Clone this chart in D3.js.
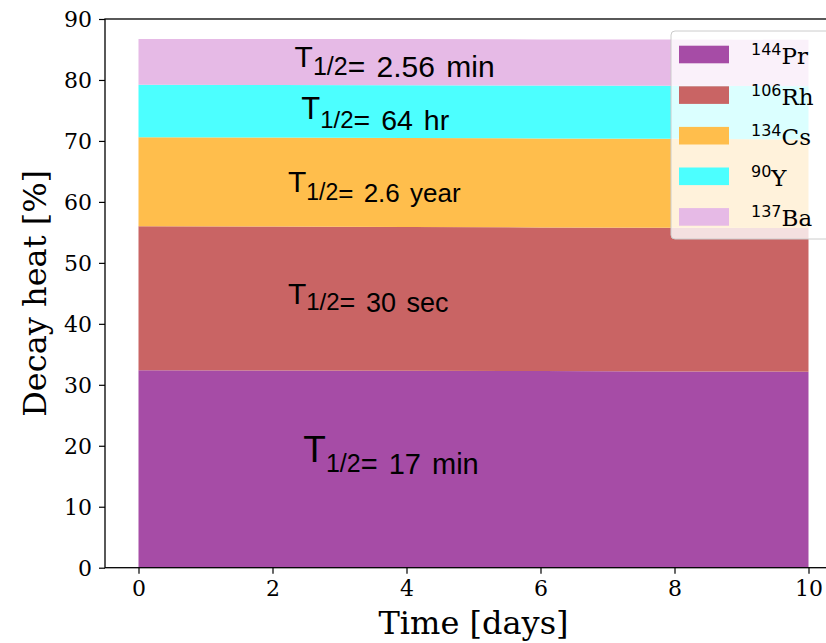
<!DOCTYPE html>
<html>
<head>
<meta charset="utf-8">
<script src="https://cdn.jsdelivr.net/npm/d3@7"></script>
<style>
  html, body { margin: 0; padding: 0; background: #fff; }
  svg { display: block; }
</style>
</head>
<body>
<svg id="chart" width="826" height="643"></svg>
<script>
// ---- data ----
const times = [0, 2, 4, 6, 8, 10];
const isotopes = ["144Pr", "106Rh", "134Cs", "90Y", "137Ba"];
const massNumbers = ["144", "106", "134", "90", "137"];
const elements = ["Pr", "Rh", "Cs", "Y", "Ba"];
const pr144 = [32.4, 32.35, 32.3, 32.25, 32.2, 32.15];
const rh106 = [23.6, 23.6, 23.6, 23.55, 23.55, 23.55];
const cs134 = [14.6, 14.6, 14.6, 14.6, 14.6, 14.55];
const y90   = [8.6, 8.62, 8.65, 8.68, 8.7, 8.72];
const ba137 = [7.5, 7.53, 7.55, 7.57, 7.6, 7.63];
const halfLives = ["17 min", "30 sec", "2.6 year", "64 hr", "2.56 min"];
const xTicks = [0, 2, 4, 6, 8, 10];
const yTicks = [0, 10, 20, 30, 40, 50, 60, 70, 80, 90];

const colors = ["#a64ca6", "#c96464", "#ffbe4c", "#4cffff", "#e6bae6"];

// ---- layout ----
const svg = d3.select("#chart");
const pLeft = 105, pRight = 842, pTop = 19, pBottom = 567.7;
const x = d3.scaleLinear().domain([-0.5, 10.5]).range([pLeft, pRight]);
const y = d3.scaleLinear().domain([0, 90]).range([pBottom, pTop]);

const seriesVals = [pr144, rh106, cs134, y90, ba137];
const table = times.map((t, i) => {
  const row = { t };
  isotopes.forEach((k, j) => row[k] = seriesVals[j][i]);
  return row;
});
const stack = d3.stack().keys(isotopes)(table);

const area = d3.area()
  .x(d => x(d.data.t))
  .y0(d => y(d[0]))
  .y1(d => y(d[1]));

svg.append("g").selectAll("path").data(stack).join("path")
  .attr("d", area)
  .attr("fill", (d, i) => colors[i]);

// ---- axes ----
const serif = "'DejaVu Serif', serif";
const xAxis = d3.axisBottom(x).tickValues(xTicks).tickSize(6).tickPadding(6).tickFormat(d3.format("d"));
const yAxis = d3.axisLeft(y).tickValues(yTicks).tickSize(6).tickPadding(7).tickFormat(d3.format("d"));

const gx = svg.append("g").attr("transform", `translate(0,${pBottom})`).call(xAxis);
const gy = svg.append("g").attr("transform", `translate(${pLeft},0)`).call(yAxis);
[gx, gy].forEach(g => {
  g.select(".domain").remove();
  g.selectAll(".tick line").attr("stroke", "#000").attr("stroke-width", 1.2);
  g.selectAll(".tick text").attr("fill", "#000").style("font-family", serif).style("font-size", "22px");
});
gx.selectAll(".tick text").attr("dy", "0.76em");
gy.selectAll(".tick text").attr("dy", "0.36em");

// spines
svg.append("rect")
  .attr("x", pLeft).attr("y", pTop)
  .attr("width", pRight - pLeft).attr("height", pBottom - pTop)
  .attr("fill", "none").attr("stroke", "#000").attr("stroke-width", 1.3);

// axis labels
svg.append("text")
  .attr("x", (pLeft + pRight) / 2).attr("y", 634)
  .attr("text-anchor", "middle")
  .style("font-family", serif).style("font-size", "32px")
  .text("Time [days]");
svg.append("text")
  .attr("transform", `translate(46,${(pTop + pBottom) / 2}) rotate(-90)`)
  .attr("text-anchor", "middle")
  .style("font-family", serif).style("font-size", "32px")
  .text("Decay heat [%]");

// ---- half-life annotations (data coords) ----
const annPos = [
  { xd: 2.46, yd: 15.37, tS: 37, sS: 25, mS: 29, tOff: -12 },
  { xd: 2.23, yd: 41.99, tS: 30, sS: 24, mS: 27, tOff: -8 },
  { xd: 2.23, yd: 60.03, tS: 30, sS: 23, mS: 26, tOff: -10 },
  { xd: 2.43, yd: 71.79, tS: 31, sS: 24, mS: 28.5, tOff: -11 },
  { xd: 2.33, yd: 80.53, tS: 30, sS: 25, mS: 30, tOff: -10 }
];
const sans = "'Liberation Sans', Arial, sans-serif";
annPos.forEach((p, i) => {
  const t = svg.append("text")
    .attr("x", x(p.xd)).attr("y", y(p.yd))
    .style("font-family", sans).attr("fill", "#000");
  t.append("tspan").attr("dy", p.tOff).style("font-size", p.tS + "px").text("T");
  t.append("tspan").attr("dy", -p.tOff - 2).style("font-size", p.sS + "px").text("1/2");
  t.append("tspan").attr("dy", 2).style("font-size", p.mS + "px").style("word-spacing", "3px").text("= " + halfLives[i]);
});

// ---- legend ----
const lg = svg.append("g");
lg.append("rect")
  .attr("x", 671).attr("y", 31).attr("width", 200).attr("height", 208)
  .attr("rx", 4)
  .attr("fill", "#fff").attr("fill-opacity", 0.8)
  .attr("stroke", "#cccccc").attr("stroke-width", 1);
isotopes.forEach((k, i) => {
  const rowY = 45.7 + i * 40.6;
  lg.append("rect")
    .attr("x", 679).attr("y", rowY).attr("width", 50).attr("height", 17.6)
    .attr("fill", colors[i]);
  const txt = lg.append("text").attr("x", 751).attr("y", rowY + 18.3).attr("fill", "#000");
  txt.append("tspan").attr("dy", -9)
    .style("font-family", "'DejaVu Sans', sans-serif").style("font-size", "16px")
    .text(massNumbers[i]);
  txt.append("tspan").attr("dy", 9)
    .style("font-family", serif).style("font-size", "23px")
    .text(elements[i]);
});
</script>
</body>
</html>
